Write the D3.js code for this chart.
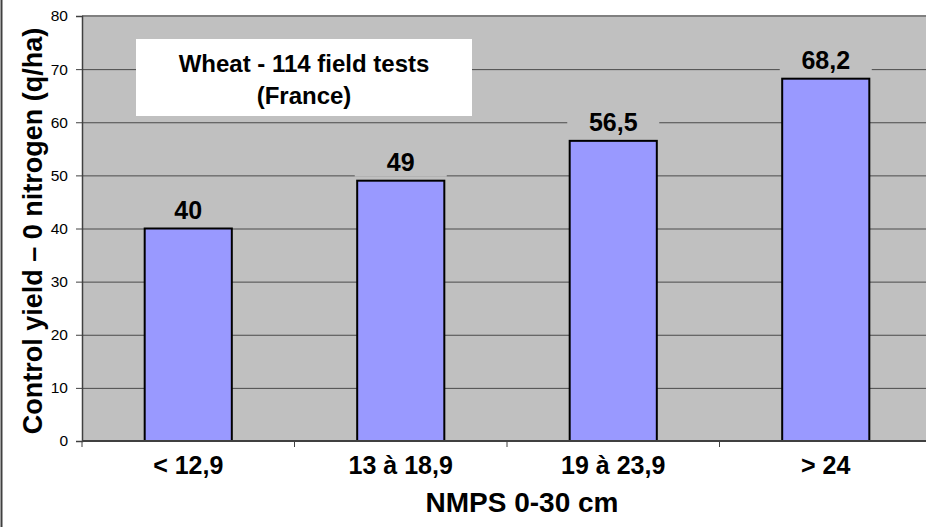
<!DOCTYPE html>
<html>
<head>
<meta charset="utf-8">
<script src="https://cdn.jsdelivr.net/npm/d3@7.9.0/dist/d3.min.js"></script>
<style>
  body { margin: 0; background: #fff; }
  svg { display: block; font-family: "Liberation Sans", Arial, sans-serif; }
</style>
</head>
<body>
<div id="chart"></div>
<script>
// data
const categories = ['< 12,9', '13 à 18,9', '19 à 23,9', '> 24'];
const yields = [40, 49, 56.5, 68.2];
const valueLabels = ['40', '49', '56,5', '68,2'];
const yTicks = [0, 10, 20, 30, 40, 50, 60, 70, 80];
const boxLines = ['Wheat - 114 field tests', '(France)'];

const width = 926;
const height = 527;
const margin = { top: 16, right: -6, bottom: 86, left: 82 };

const svg = d3.select('#chart')
  .append('svg')
  .attr('width', width)
  .attr('height', height);

const x = d3.scaleBand()
  .domain(categories)
  .range([margin.left, width - margin.right]);

const y = d3.scaleLinear()
  .domain([0, 80])
  .range([height - margin.bottom, margin.top]);

// figure border on the left
svg.append('line')
  .attr('x1', 1.5).attr('x2', 1.5)
  .attr('y1', 0).attr('y2', height)
  .attr('stroke', '#404040')
  .attr('stroke-width', 2);

// plot area
svg.append('rect')
  .attr('x', margin.left)
  .attr('y', margin.top)
  .attr('width', width - margin.right - margin.left)
  .attr('height', y(0) - margin.top)
  .attr('fill', '#c0c0c0');

// gridlines
const grid = svg.append('g')
  .attr('transform', `translate(${margin.left},0)`)
  .call(d3.axisLeft(y).tickValues(yTicks.slice(1, -1)).tickFormat('')
    .tickSize(-(width - margin.right - margin.left)));
grid.select('.domain').remove();
grid.selectAll('line').attr('stroke', '#4a4a4a').attr('stroke-width', 1);

// top border of plot
svg.append('line')
  .attr('x1', margin.left).attr('x2', width)
  .attr('y1', y(80)).attr('y2', y(80))
  .attr('stroke', '#808080').attr('stroke-width', 2);

// y axis
const yAxis = svg.append('g')
  .attr('transform', `translate(${margin.left},0)`)
  .call(d3.axisLeft(y).tickValues(yTicks).tickSize(6).tickPadding(8));
yAxis.select('.domain').attr('stroke', '#404040').attr('stroke-width', 1.5);
yAxis.selectAll('line').attr('stroke', '#404040');
yAxis.selectAll('text')
  .attr('font-size', 15.5)
  .attr('font-family', '"Liberation Sans", Arial, sans-serif')
  .attr('fill', '#000');

// text box
const box = svg.append('g');
box.append('rect')
  .attr('x', 136).attr('y', 39)
  .attr('width', 336).attr('height', 77)
  .attr('fill', '#fff');
box.selectAll('text')
  .data(boxLines)
  .join('text')
  .attr('x', 304)
  .attr('y', (d, i) => 72 + i * 32)
  .attr('text-anchor', 'middle')
  .attr('font-size', 24)
  .attr('font-weight', 'bold')
  .text(d => d);

// bars
const barW = x.bandwidth() * 0.41;
const rows = categories.map((c, i) => ({ c, v: yields[i], label: valueLabels[i] }));

svg.append('g')
  .selectAll('rect')
  .data(rows)
  .join('rect')
  .attr('x', d => x(d.c) + x.bandwidth() / 2 - barW / 2)
  .attr('y', d => y(d.v))
  .attr('width', barW)
  .attr('height', d => y(0) - y(d.v))
  .attr('fill', '#9999ff')
  .attr('stroke', '#000')
  .attr('stroke-width', 2);

// value labels with plot-coloured background
const lab = svg.append('g')
  .selectAll('g')
  .data(rows)
  .join('g')
  .attr('transform', d => `translate(${x(d.c) + x.bandwidth() / 2},${y(d.v) - 10})`);
lab.append('rect')
  .attr('x', -46).attr('y', -24)
  .attr('width', 92).attr('height', 30)
  .attr('fill', '#c0c0c0');
lab.append('text')
  .attr('text-anchor', 'middle')
  .attr('font-size', 25)
  .attr('font-weight', 'bold')
  .text(d => d.label);

// x axis
svg.append('line')
  .attr('x1', margin.left).attr('x2', width)
  .attr('y1', y(0)).attr('y2', y(0))
  .attr('stroke', '#404040').attr('stroke-width', 2);
svg.append('g')
  .selectAll('line')
  .data(categories)
  .join('line')
  .attr('x1', d => x(d)).attr('x2', d => x(d))
  .attr('y1', y(0)).attr('y2', y(0) + 6)
  .attr('stroke', '#404040');
svg.append('g')
  .selectAll('text')
  .data(categories)
  .join('text')
  .attr('x', d => x(d) + x.bandwidth() / 2)
  .attr('y', y(0) + 33)
  .attr('text-anchor', 'middle')
  .attr('font-size', 25)
  .attr('font-weight', 'bold')
  .text(d => d);

// axis titles
svg.append('text')
  .attr('x', 522)
  .attr('y', 512)
  .attr('text-anchor', 'middle')
  .attr('font-size', 28)
  .attr('font-weight', 'bold')
  .text('NMPS 0-30 cm');

svg.append('text')
  .attr('transform', `translate(42,231) rotate(-90)`)
  .attr('text-anchor', 'middle')
  .attr('font-size', 27)
  .attr('font-weight', 'bold')
  .text('Control yield – 0 nitrogen (q/ha)');
</script>
</body>
</html>
